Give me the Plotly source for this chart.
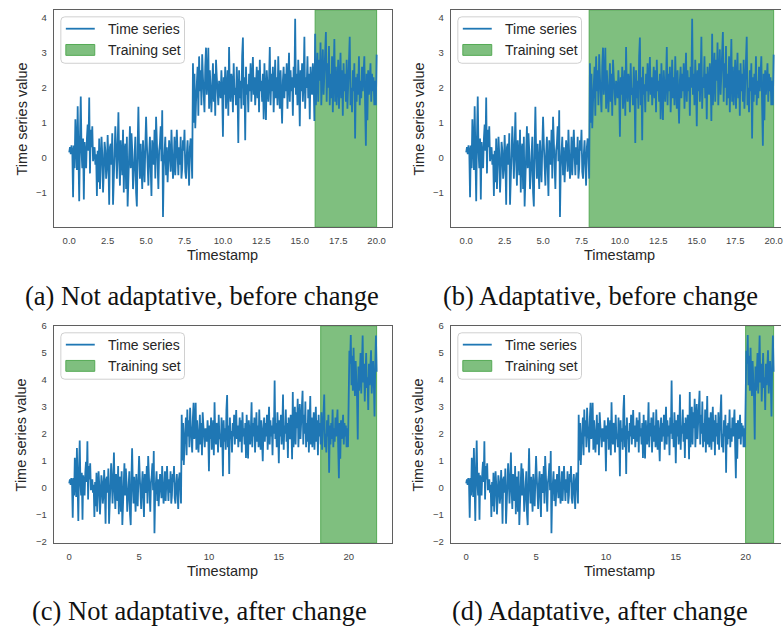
import plotly.graph_objects as go

W, H = 783, 632
STEP = 0.05

# ---- data ----
seg_before = [
    0.15, 0.3, 0.1, 0.35, 0.2, -1.13, 0.35, -0.3, 1.1, 0.25, -0.35, 1.47, 0.4, -1.25, 0.6, 1.75, 0.2, -0.3, 0.55, -1.2,
    0.45, 0.1, -0.3, 0.55, 0.95, 0.2, 1.72, -0.45, 0.8, 0.3, 0.9, -0.1, 0.25, 0.3, -0.2, 0.1, -1.1, 0.2, -0.7, 0.55,
    -0.9, -0.2, 0.6, 0.1, -1.0, -0.4, 0.45, 0.2, -0.6, -0.3, 0.65, -0.1, -1.35, 0.3, 0.4, -0.2, 0.7, -1.35, -0.5, 0.5,
    0.9, 0.2, -0.6, 0.3, 1.3, -0.1, -0.8, 0.5, -0.3, -0.5, 0.8, -1.0, 0.2, 0.4, -0.9, 0.6, -1.4, -0.5, 0.1, 0.9,
    -0.3, 0.7, 0.2, -0.9, -0.5, 0.2, 0.6, -1.0, -1.4, 0.3, 1.46, 0.1, -0.6, 0.4, -0.2, -0.9, 0.5, -0.4, -0.7, 0.3,
    1.17, 0.4, -0.5, -0.8, 0.1, 0.6, -0.3, -1.1, 0.5, 0.2, -0.2, 0.8, -0.6, 1.17, 0.3, -0.4, -0.9, 0.2, 0.4, 0.9,
    -0.1, 1.36, -1.7, -0.3, 0.2, 0.6, -0.5, 0.3, -0.7, -0.2, 0.5, 0.1, -0.4, 0.8, 0.2, -0.6, -0.2, 0.6, -0.5, 0.4,
    0.8, 0.1, -0.5, 0.3, -0.2, 0.6, -0.6, -0.3, 0.5, 0.2, 0.8, -0.4, -0.6, 0.1, 0.5, -0.2, -0.8, 0.3, 0.55, 0.1,
]
seg_middle = [
    -0.6, 2.7, 1.0, 2.4, 0.84, 1.6, 2.2, 2.6, 1.2, 2.9, 1.9, 2.5, 1.5, 2.96, 2.3, 1.7, 1.3, 2.6, 3.15, 1.8,
    2.2, 3.15, 1.4, 2.5, 1.9, 1.3, 2.0, 2.7, 1.6, 2.4, 1.2, 2.8, 2.3, 1.8, 1.5, 2.2, 2.0, 1.7, 2.5, 1.9,
    0.6, 2.3, 1.8, 2.6, 1.4, 2.1, 2.5, 1.2, 3.17, 1.9, 1.6, 2.4, 2.2, 1.3, 2.7, 1.8, 2.0, 1.5, 2.6, 1.9,
    0.42, 2.5, 1.7, 2.2, 1.4, 2.9, 3.44, 1.5, 2.3, 0.5, 2.6, 1.8, 2.1, 1.3, 2.4, 1.9, 2.7, 1.6, 2.2, 2.88,
    1.8, 2.3, 1.5, 2.0, 2.6, 1.7, 2.5, 1.3, 2.8, 1.9, 2.2, 1.6, 2.4, 1.1, 2.7, 1.8, 1.08, 2.5, 2.1, 1.6,
    2.2, 3.17, 1.5, 2.4, 1.9, 2.6, 1.3, 2.1, 2.8, 1.7, 2.3, 1.5, 2.9, 2.0, 1.4, 2.5, 1.8, 0.98, 2.2, 2.6,
    1.7, 2.4, 1.9, 2.7, 1.4, 2.2, 3.0, 1.6, 2.5, 1.9, 2.3, 1.2, 2.6, 2.0, 3.98, 1.8, 2.4, 1.5, 2.8, 2.1,
    0.9, 2.5, 1.9, 2.7, 1.6, 2.2, 3.46, 1.4, 2.3, 2.0, 2.9, 1.7, 2.4, 1.1, 2.6, 2.1, 1.8, 2.7, 2.3, 1.05,
    3.55, 1.5, 2.6, 3.0, 1.6, 2.8, 2.2, 3.3, 1.5, 2.5, 3.1, 1.8, 2.3, 2.9, 3.6, 1.6, 2.7, 2.0, 3.2, 1.5,
    2.4, 1.7, 2.9, 1.3, 2.2, 3.4, 1.6, 2.6, 1.5, 2.1, 2.8, 1.4, 2.3, 3.0, 1.7, 2.5, 1.2, 2.7, 1.9, 2.4,
    1.6, 2.8, 1.4, 2.2, 2.6, 3.46, 1.5, 2.0, 1.3, 2.5, 1.9, 2.7, 0.55, 2.3, 1.6, 2.4, 1.8, 2.9, 1.5, 2.2,
    1.7, 2.6, 1.9, 2.3, 2.9, 1.5, 0.34, 2.4, 1.07, 2.5, 1.8, 2.2, 2.7, 1.6, 2.4, 1.9, 2.3, 1.5, 2.2, 1.5,
]
seg_after = [
    2.95,
    5.08, 4.6, 5.67, 3.8, 4.9, 3.6, 5.2, 4.1, 3.4, 4.7, 4.0, 3.3, 1.78, 4.5, 3.6, 4.2, 5.0, 3.5, 4.4, 5.65,
    3.9, 4.6, 3.2, 4.3, 5.0, 3.7, 4.1, 2.88, 4.6, 3.8, 4.4, 5.1, 3.5, 4.2, 4.7, 3.9, 2.64, 4.5, 5.65, 4.3,
]
values = seg_before + seg_middle + seg_after
timestamps = [round(i * STEP, 2) for i in range(len(values))]

panel_end = [20.0, 20.0, 22.0, 22.0]
train_start = [16.0, 8.0, 18.0, 20.0]
train_end = [20.0, 20.0, 22.0, 22.0]
captions = ["(a) Not adaptative, before change", "(b) Adaptative, before change",
            "(c) Not adaptative, after change", "(d) Adaptative, after change"]
xtick_top = [0, 2.5, 5, 7.5, 10, 12.5, 15, 17.5, 20]
xtick_bottom = [0, 5, 10, 15, 20]
ytick_top = [-1, 0, 1, 2, 3, 4]
ytick_bottom = [-2, -1, 0, 1, 2, 3, 4, 5, 6]

# ---- layout geometry (pixels) ----
panels = [
    dict(l=54, r=393, t=5, b=225, xr=[-1, 21], yr=[-1.99, 4.23], xt=xtick_top, yt=ytick_top, fmt=".1f", crop=False),
    dict(l=452, r=783, t=5, b=225, xr=[-1, 20.48], yr=[-1.99, 4.23], xt=xtick_top, yt=ytick_top, fmt=".1f", crop=True),
    dict(l=54, r=393, t=325, b=545, xr=[-1.1, 23.1], yr=[-2.07, 6.01], xt=xtick_bottom, yt=ytick_bottom, fmt="d", crop=False),
    dict(l=452, r=783, t=325, b=545, xr=[-1.1, 22.53], yr=[-2.07, 6.01], xt=xtick_bottom, yt=ytick_bottom, fmt="d", crop=True),
]
full_center = [223.5, 621.5, 223.5, 621.5]
caption_pos = [(203, 295), (602, 295), (200, 614), (602, 614)]
legend_off = [(0, 0), (398, 0), (0, 320), (398, 320)]
ytitle_x = [22, 420, 22, 420]

def px(x):
    return x / W

def py(y):
    return 1 - y / H

BLUE = "#1f77b4"
GREEN_FILL = "#7fbf7f"
GREEN_EDGE = "#55aa55"
AXIS_COL = "#5f5f5f"
TXT = "#262626"
SANS = "Liberation Sans, Arial, sans-serif"
SERIF = "Liberation Serif, Times New Roman, serif"

fig = go.Figure()
shapes = []
annotations = []

def rounded_rect(x0, y0, x1, y1, r):
    X0, X1 = px(x0), px(x1)
    Y0, Y1 = py(y0), py(y1)
    rx, ry = r / W, r / H
    return (f"M{X0+rx},{Y0} L{X1-rx},{Y0} Q{X1},{Y0} {X1},{Y0-ry} "
            f"L{X1},{Y1+ry} Q{X1},{Y1} {X1-rx},{Y1} L{X0+rx},{Y1} "
            f"Q{X0},{Y1} {X0},{Y1+ry} L{X0},{Y0-ry} Q{X0},{Y0} {X0+rx},{Y0} Z")

for k, p in enumerate(panels):
    n = k + 1
    xa = "x" if n == 1 else f"x{n}"
    ya = "y" if n == 1 else f"y{n}"
    xs = [t for t in timestamps if t <= panel_end[k] + 1e-9]
    ys = values[:len(xs)]
    fig.add_trace(go.Scatter(x=xs, y=ys, mode="lines", line=dict(color=BLUE, width=1.8),
                             xaxis=xa, yaxis=ya, showlegend=False, hoverinfo="skip"))

    xkey = "xaxis" if n == 1 else f"xaxis{n}"
    ykey = "yaxis" if n == 1 else f"yaxis{n}"
    fig.layout[xkey] = dict(
        domain=[px(p["l"]), px(p["r"])], range=p["xr"], anchor=ya,
        tickmode="array", tickvals=p["xt"], tickformat=p["fmt"],
        showgrid=False, zeroline=False, showline=True, mirror=True,
        linecolor=AXIS_COL, linewidth=1.3, ticks="", ticklabelstandoff=4,
        ticklabeloverflow="allow",
        tickfont=dict(family=SANS, size=9.5, color="#444444"), fixedrange=True,
    )
    fig.layout[ykey] = dict(
        domain=[py(p["b"]), py(p["t"])], range=p["yr"], anchor=xa,
        tickmode="array", tickvals=p["yt"],
        showgrid=False, zeroline=False, showline=True, mirror=not p["crop"],
        linecolor=AXIS_COL, linewidth=1.3, ticks="", ticklabelstandoff=4,
        tickfont=dict(family=SANS, size=9.5, color="#444444"), fixedrange=True,
    )

    # training-set span
    shapes.append(dict(type="rect", xref=xa, yref=f"{ya} domain",
                       x0=train_start[k], x1=train_end[k], y0=0, y1=1,
                       fillcolor=GREEN_FILL, line=dict(color=GREEN_EDGE, width=1), layer="below"))

    # axis titles
    annotations.append(dict(text="Timestamp", xref="paper", yref="paper",
                            x=px(full_center[k]), y=py(p["b"] + 28), xanchor="center", yanchor="middle",
                            showarrow=False, font=dict(family=SANS, size=14.5, color=TXT)))
    annotations.append(dict(text="Time series value", xref="paper", yref="paper",
                            x=px(ytitle_x[k]), y=py((p["t"] + p["b"]) / 2), xanchor="center", yanchor="middle",
                            textangle=-90, showarrow=False, font=dict(family=SANS, size=14.5, color=TXT)))

    # caption
    cx, cy = caption_pos[k]
    annotations.append(dict(text=captions[k], xref="paper", yref="paper", x=px(cx), y=py(cy),
                            xanchor="center", yanchor="middle", showarrow=False,
                            font=dict(family=SERIF, size=26.5, color="#111111")))

    # legend box
    ox, oy = legend_off[k]
    shapes.append(dict(type="path", xref="paper", yref="paper",
                       path=rounded_rect(61 + ox, 12 + oy, 185 + ox, 59 + oy, 4),
                       fillcolor="rgba(255,255,255,0.85)", line=dict(color="#d0d0d0", width=1), layer="above"))
    shapes.append(dict(type="line", xref="paper", yref="paper",
                       x0=px(66 + ox), x1=px(95 + ox), y0=py(24 + oy), y1=py(24 + oy),
                       line=dict(color=BLUE, width=1.8), layer="above"))
    shapes.append(dict(type="rect", xref="paper", yref="paper",
                       x0=px(66 + ox), x1=px(95 + ox), y0=py(40 + oy), y1=py(51 + oy),
                       fillcolor=GREEN_FILL, line=dict(color=GREEN_EDGE, width=1), layer="above"))
    annotations.append(dict(text="Time series", xref="paper", yref="paper", x=px(106 + ox), y=py(24 + oy),
                            xanchor="left", yanchor="middle", showarrow=False,
                            font=dict(family=SANS, size=14, color=TXT)))
    annotations.append(dict(text="Training set", xref="paper", yref="paper", x=px(106 + ox), y=py(45.5 + oy),
                            xanchor="left", yanchor="middle", showarrow=False,
                            font=dict(family=SANS, size=14, color=TXT)))

fig.update_layout(
    width=W, height=H, margin=dict(l=0, r=0, t=0, b=0),
    paper_bgcolor="white", plot_bgcolor="white",
    shapes=shapes, annotations=annotations, showlegend=False,
)

fig.write_html("out.html", include_plotlyjs=True, config={"displayModeBar": False})
